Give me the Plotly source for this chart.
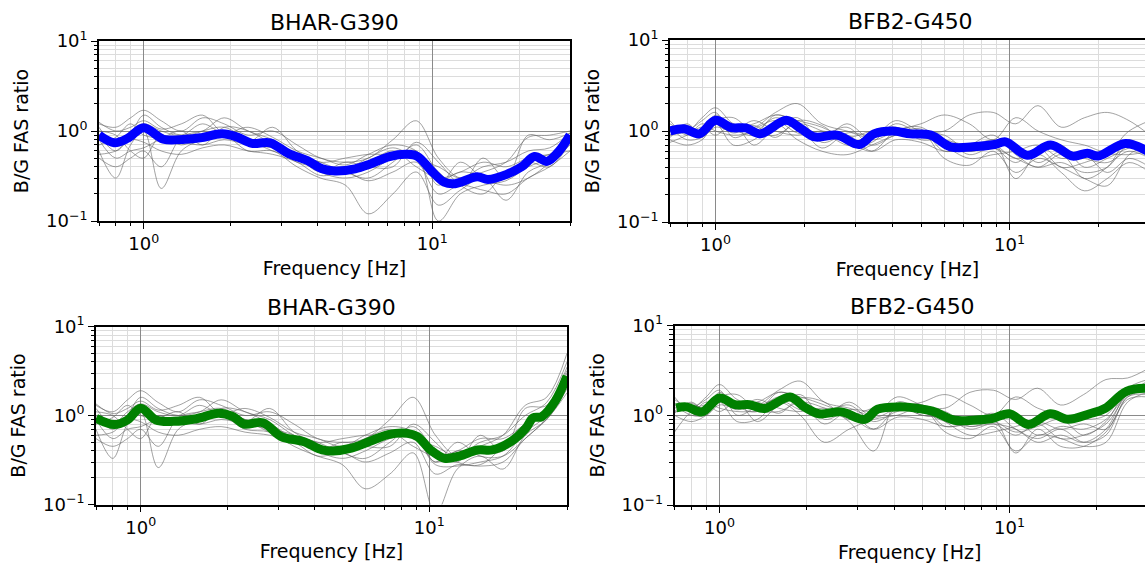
import numpy as np
import plotly.graph_objects as go

W, H = 1145, 566

# ---------------- data ----------------
grid_freq = [0.7, 0.8, 0.9, 1.0, 1.15, 1.35, 1.6, 1.9, 2.3, 2.8, 3.4, 4.1, 5.0, 6.0,
             7.3, 8.8, 10.5, 12.5, 15, 18, 21.5, 25.5, 30]

# top-left BHAR-G390 (blue)
tl_mean_freq = [0.70, 0.79, 0.88, 1.0, 1.17, 1.39, 1.57, 1.87, 2.1, 2.37, 2.74, 3.18, 3.69,
                4.15, 4.6, 5.4, 6.1, 7.1, 8.2, 8.9, 9.9, 11.0, 12.0, 14.3, 15.6, 18.1,
                20.4, 22.6, 25.0, 27.4, 30.0]
tl_mean = [0.90, 0.74, 0.83, 1.09, 0.81, 0.81, 0.84, 0.93, 0.86, 0.73, 0.74, 0.56, 0.47,
           0.38, 0.36, 0.38, 0.43, 0.52, 0.55, 0.52, 0.365, 0.27, 0.26, 0.31, 0.29, 0.33,
           0.40, 0.52, 0.46, 0.59, 0.90]
tl_gray = [
    [1.2, 1.1, 1.4, 1.7, 1.3, 1.0, 1.4, 1.2, 0.9, 1.0, 0.7, 0.5, 0.45, 0.5, 0.8, 1.3, 0.5, 0.3, 0.35, 0.45, 0.85, 0.9, 1.0],
    [0.9, 0.6, 0.9, 1.5, 1.1, 0.9, 1.0, 1.4, 1.0, 0.8, 0.55, 0.45, 0.35, 0.3, 0.45, 0.7, 0.35, 0.25, 0.5, 0.3, 0.9, 0.8, 0.95],
    [0.6, 0.3, 0.7, 1.0, 0.23, 0.6, 0.8, 0.9, 0.6, 0.6, 0.4, 0.3, 0.25, 0.12, 0.2, 0.35, 0.15, 0.22, 0.3, 0.17, 0.35, 0.45, 0.7],
    [0.8, 0.5, 0.6, 0.65, 0.8, 0.75, 0.7, 0.8, 0.7, 0.65, 0.55, 0.35, 0.3, 0.35, 0.5, 0.55, 0.1, 0.2, 0.25, 0.28, 0.4, 0.5, 0.8],
    [0.5, 0.4, 0.5, 0.6, 0.4, 0.85, 1.0, 1.1, 0.8, 0.7, 0.5, 0.4, 0.4, 0.45, 0.6, 0.4, 0.3, 0.35, 0.45, 0.4, 0.5, 0.55, 0.6],
    [1.1, 0.7, 1.0, 1.2, 1.0, 0.9, 1.2, 0.9, 0.75, 1.1, 0.6, 0.45, 0.5, 0.55, 0.55, 0.6, 0.25, 0.45, 0.3, 0.25, 0.3, 0.45, 0.9],
    [0.7, 0.85, 1.2, 0.9, 0.85, 1.0, 0.7, 1.1, 1.0, 0.7, 0.45, 0.4, 0.38, 0.5, 0.65, 0.5, 0.4, 0.3, 0.4, 0.45, 0.6, 0.65, 0.95],
    [1.0, 0.9, 0.6, 0.5, 0.9, 0.7, 0.9, 1.0, 0.8, 0.6, 0.5, 0.35, 0.45, 0.4, 0.4, 0.75, 0.45, 0.25, 0.2, 0.35, 0.45, 0.4, 0.75],
    [1.25, 1.0, 1.1, 1.3, 1.05, 1.2, 1.5, 0.95, 1.1, 0.85, 0.6, 0.5, 0.42, 0.55, 0.7, 0.6, 0.28, 0.35, 0.32, 0.3, 0.5, 0.55, 0.85],
    [0.55, 0.6, 0.8, 0.75, 0.6, 0.55, 0.65, 0.7, 0.6, 0.55, 0.45, 0.32, 0.35, 0.28, 0.35, 0.45, 0.2, 0.25, 0.22, 0.2, 0.3, 0.4, 0.6],
]

# bottom-left BHAR-G390 (green)
bl_mean_freq = [0.70, 0.81, 0.90, 1.0, 1.13, 1.3, 1.56, 1.86, 2.09, 2.28, 2.65, 3.07, 3.66,
                4.25, 4.64, 5.37, 6.2, 7.2, 8.4, 9.1, 10.1, 11.3, 12.7, 14.7, 16.5, 19.2,
                21.6, 22.9, 24.5, 27.3, 30.0]
bl_mean = [0.93, 0.79, 0.89, 1.21, 0.89, 0.86, 0.92, 1.06, 0.97, 0.80, 0.83, 0.58, 0.51,
           0.41, 0.40, 0.43, 0.51, 0.61, 0.63, 0.58, 0.41, 0.33, 0.35, 0.41, 0.41, 0.51,
           0.72, 0.94, 0.97, 1.45, 2.76]
bl_gray = [
    [1.3, 1.1, 1.5, 1.9, 1.4, 1.1, 1.5, 1.3, 1.0, 1.1, 0.8, 0.55, 0.5, 0.55, 0.9, 1.6, 0.6, 0.35, 0.45, 0.6, 1.3, 1.6, 5.0],
    [1.0, 0.7, 1.0, 1.6, 1.2, 1.0, 1.1, 1.5, 1.1, 0.9, 0.6, 0.5, 0.38, 0.33, 0.5, 0.75, 0.4, 0.3, 0.6, 0.4, 1.2, 1.3, 3.5],
    [0.7, 0.33, 0.8, 1.1, 0.26, 0.7, 0.9, 1.0, 0.7, 0.65, 0.45, 0.35, 0.28, 0.15, 0.22, 0.38, 0.08, 0.25, 0.35, 0.25, 0.6, 0.9, 2.0],
    [0.9, 0.55, 0.7, 0.75, 0.9, 0.85, 0.8, 0.9, 0.8, 0.7, 0.6, 0.4, 0.33, 0.4, 0.55, 0.6, 0.28, 0.27, 0.3, 0.35, 0.65, 1.0, 2.5],
    [0.55, 0.45, 0.55, 0.7, 0.45, 0.95, 1.1, 1.2, 0.9, 0.8, 0.55, 0.45, 0.45, 0.5, 0.65, 0.45, 0.35, 0.4, 0.55, 0.55, 0.8, 1.1, 3.0],
    [1.2, 0.8, 1.1, 1.35, 1.1, 1.0, 1.3, 1.0, 0.85, 1.2, 0.65, 0.5, 0.55, 0.6, 0.6, 0.65, 0.3, 0.5, 0.35, 0.35, 0.55, 0.95, 2.8],
    [0.8, 0.95, 1.3, 1.0, 0.95, 1.1, 0.8, 1.2, 1.1, 0.8, 0.5, 0.45, 0.42, 0.55, 0.7, 0.55, 0.45, 0.35, 0.5, 0.6, 1.0, 1.4, 4.0],
    [1.1, 1.0, 0.7, 0.55, 1.0, 0.8, 1.0, 1.1, 0.9, 0.65, 0.55, 0.4, 0.5, 0.45, 0.45, 0.8, 0.5, 0.3, 0.28, 0.45, 0.8, 1.0, 2.2],
    [1.35, 1.05, 1.2, 1.45, 1.15, 1.3, 1.6, 1.05, 1.2, 0.95, 0.65, 0.55, 0.45, 0.6, 0.75, 0.65, 0.3, 0.4, 0.38, 0.4, 0.8, 1.2, 3.2],
    [0.6, 0.65, 0.9, 0.85, 0.65, 0.6, 0.7, 0.75, 0.65, 0.6, 0.5, 0.35, 0.38, 0.3, 0.38, 0.5, 0.22, 0.28, 0.27, 0.3, 0.55, 0.9, 1.8],
]

# top-right BFB2-G450 (blue)
tr_mean_freq = [0.70, 0.78, 0.88, 1.0, 1.13, 1.27, 1.42, 1.74, 1.95, 2.18, 2.59, 3.08, 3.46,
                3.99, 4.6, 5.4, 6.3, 7.5, 8.9, 9.7, 11.5, 13.8, 16.4, 18.4, 20.0, 24.8, 30.0]
tr_mean = [1.0, 1.06, 0.93, 1.31, 1.09, 1.08, 0.93, 1.31, 1.06, 0.86, 0.90, 0.71, 0.93,
           1.0, 0.93, 0.90, 0.67, 0.67, 0.71, 0.76, 0.54, 0.70, 0.53, 0.57, 0.53, 0.73, 0.58]
tr_gray = [
    [1.2, 1.0, 1.4, 1.8, 1.2, 1.1, 1.6, 2.0, 1.2, 1.0, 0.85, 1.3, 1.0, 1.0, 1.5, 1.6, 1.2, 1.9, 1.1, 1.4, 1.6, 1.3, 0.9],
    [0.9, 1.2, 0.9, 1.3, 1.4, 1.0, 1.4, 1.1, 0.8, 1.2, 0.8, 1.0, 1.2, 1.5, 1.2, 0.8, 1.4, 1.0, 0.8, 0.7, 0.6, 1.0, 1.3],
    [0.8, 0.7, 0.8, 1.2, 0.7, 0.8, 1.2, 0.8, 0.6, 0.55, 0.7, 0.9, 1.0, 0.5, 0.42, 0.6, 0.35, 0.5, 0.4, 0.3, 0.25, 0.55, 0.7],
    [1.0, 1.1, 1.0, 1.5, 1.1, 1.2, 1.5, 1.3, 1.1, 0.8, 0.6, 1.0, 1.1, 0.7, 0.5, 0.55, 0.6, 0.7, 0.5, 0.55, 0.35, 0.5, 0.4],
    [1.3, 0.9, 1.2, 1.0, 0.9, 0.95, 0.9, 1.2, 1.0, 0.7, 0.75, 1.2, 0.9, 0.7, 0.6, 0.65, 0.5, 0.4, 0.45, 0.35, 0.4, 0.7, 0.6],
    [0.75, 0.9, 1.1, 0.9, 1.2, 0.7, 1.1, 1.4, 0.75, 0.9, 0.6, 0.8, 0.75, 0.6, 0.65, 0.75, 0.3, 0.55, 0.35, 0.22, 0.3, 0.45, 0.35],
    [1.1, 0.8, 0.85, 1.1, 1.0, 1.3, 1.0, 0.9, 1.0, 0.85, 1.0, 1.1, 0.85, 0.8, 0.7, 0.8, 0.7, 0.45, 0.6, 0.5, 0.45, 0.6, 0.5],
    [0.9, 1.0, 1.3, 1.6, 0.85, 1.05, 1.3, 0.95, 0.9, 1.1, 0.7, 0.9, 0.95, 0.9, 0.6, 0.7, 0.5, 0.6, 0.7, 0.4, 0.5, 0.65, 0.7],
    [0.85, 1.15, 0.95, 1.4, 1.05, 0.9, 1.5, 1.2, 0.65, 0.95, 0.9, 1.1, 0.8, 0.8, 0.55, 0.65, 0.45, 0.65, 0.4, 0.45, 0.55, 0.55, 0.6],
    [1.1, 0.95, 1.0, 1.2, 0.95, 1.15, 0.85, 1.3, 1.15, 0.75, 0.85, 0.95, 1.05, 0.6, 0.7, 0.9, 0.55, 0.4, 0.55, 0.3, 0.4, 0.8, 0.55],
]

# bottom-right BFB2-G450 (green)
br_mean_freq = [0.71, 0.77, 0.87, 1.0, 1.13, 1.27, 1.43, 1.75, 1.96, 2.2, 2.63, 3.17, 3.51,
                4.18, 4.83, 5.42, 6.47, 7.5, 8.7, 10.0, 11.6, 13.8, 15.9, 18.9, 21.3, 25.3, 30.0]
br_mean = [1.21, 1.24, 1.09, 1.56, 1.31, 1.31, 1.19, 1.60, 1.24, 1.04, 1.09, 0.90, 1.17,
           1.24, 1.19, 1.11, 0.88, 0.88, 0.92, 1.04, 0.79, 1.04, 0.90, 1.04, 1.19, 1.85, 2.0]
br_gray = [
    [1.5, 1.2, 1.6, 2.2, 1.5, 1.3, 1.9, 2.4, 1.4, 1.2, 1.0, 1.6, 1.3, 1.2, 1.8, 1.9, 1.5, 2.0, 1.3, 1.7, 2.5, 2.6, 3.3],
    [1.1, 1.4, 1.1, 1.6, 1.7, 1.2, 1.6, 1.3, 1.0, 1.4, 0.95, 1.2, 1.4, 1.7, 1.3, 1.0, 1.6, 1.2, 1.0, 0.9, 1.0, 2.0, 2.5],
    [1.0, 0.85, 1.0, 1.4, 0.85, 0.9, 1.4, 1.0, 0.5, 0.7, 0.9, 1.0, 1.2, 0.65, 0.55, 0.75, 0.4, 0.6, 0.55, 0.45, 0.5, 1.4, 1.8],
    [1.2, 1.3, 1.2, 1.8, 1.3, 1.4, 1.8, 1.6, 1.3, 1.0, 0.7, 1.2, 1.3, 0.85, 0.6, 0.65, 0.75, 0.85, 0.7, 0.8, 0.7, 1.6, 1.9],
    [1.6, 1.1, 1.4, 1.2, 1.1, 1.1, 1.1, 1.4, 1.2, 0.85, 0.4, 1.4, 1.1, 0.85, 0.75, 0.8, 0.7, 0.5, 0.6, 0.5, 0.7, 1.8, 2.2],
    [0.65, 1.1, 1.3, 1.1, 1.4, 0.85, 1.3, 1.7, 0.9, 1.1, 0.7, 0.95, 0.9, 0.75, 0.8, 0.9, 0.38, 0.7, 0.45, 0.45, 0.65, 1.5, 1.6],
    [1.3, 1.0, 1.0, 1.3, 1.2, 1.5, 1.2, 1.1, 1.2, 1.0, 1.2, 1.3, 1.0, 0.95, 0.85, 1.0, 0.9, 0.6, 0.75, 0.7, 0.9, 1.7, 2.0],
    [1.1, 1.2, 1.5, 1.9, 1.0, 1.25, 1.5, 1.15, 1.1, 1.3, 0.85, 1.1, 1.15, 1.1, 0.75, 0.85, 0.65, 0.75, 0.9, 0.6, 0.85, 1.9, 2.1],
    [1.05, 1.35, 1.15, 1.7, 1.25, 1.1, 1.8, 1.45, 0.8, 1.15, 1.1, 1.3, 1.0, 0.95, 0.7, 0.8, 0.6, 0.8, 0.55, 0.6, 0.8, 1.7, 2.4],
    [1.35, 1.15, 1.2, 1.45, 1.15, 1.4, 1.05, 1.55, 1.4, 0.9, 1.05, 1.15, 1.25, 0.75, 0.85, 1.05, 0.7, 0.55, 0.7, 0.5, 0.6, 1.6, 1.7],
]

titles = ["BHAR-G390", "BFB2-G450", "BHAR-G390", "BFB2-G450"]
x_label = "Frequency [Hz]"
y_label = "B/G FAS ratio"
x_tickvals = [1, 10]
x_ticktext = ["10<sup>0</sup>", "10<sup>1</sup>"]
y_tickvals = [0.1, 1, 10]
y_ticktext = ["10<sup>\u22121</sup>", "10<sup>0</sup>", "10<sup>1</sup>"]

# ---------------- layout helpers ----------------
# panel pixel boxes: (left, right, top, bottom)
boxes = [
    (99, 570, 41, 221),
    (670, 1145, 40, 222),
    (96, 567, 326.5, 504.5),
    (674.5, 1145, 325.5, 505),
]
x_hi = [30, 28.9, 30, 29.3]

panels = [
    (tl_mean_freq, tl_mean, tl_gray, "#0000ff"),
    (tr_mean_freq, tr_mean, tr_gray, "#0000ff"),
    (bl_mean_freq, bl_mean, bl_gray, "#008000"),
    (br_mean_freq, br_mean, br_gray, "#008000"),
]

FONT = "DejaVu Sans"
TICK_SIZE = 18
LABEL_SIZE = 19
TITLE_SIZE = 22
minor_vals = [m * 10.0 ** e for e in (-2, -1, 0, 1, 2) for m in range(2, 10)]

fig = go.Figure()
layout = dict(
    template="none",
    width=W, height=H, autosize=False,
    margin=dict(l=0, r=0, t=0, b=0, pad=0),
    paper_bgcolor="white", plot_bgcolor="white",
    showlegend=False,
    font=dict(family=FONT, size=TICK_SIZE, color="black"),
    annotations=[],
)

for i, ((mf, mv, grays, col), (l, r, t, b)) in enumerate(zip(panels, boxes)):
    xa = "x" if i == 0 else f"x{i+1}"
    ya = "y" if i == 0 else f"y{i+1}"
    for g in grays:
        fig.add_trace(go.Scatter(x=grid_freq, y=g, mode="lines", xaxis=xa, yaxis=ya,
                                 line=dict(color="rgba(100,100,100,0.6)", width=1, shape="spline", smoothing=1.0),
                                 hoverinfo="skip"))
    fig.add_trace(go.Scatter(x=mf, y=mv, mode="lines", xaxis=xa, yaxis=ya,
                             line=dict(color=col, width=9, shape="spline", smoothing=1.0)))

    right_panel = i in (1, 3)
    xkey = "xaxis" if i == 0 else f"xaxis{i+1}"
    ykey = "yaxis" if i == 0 else f"yaxis{i+1}"
    layout[xkey] = dict(
        type="log", domain=[l / W, r / W], anchor=ya, automargin=False,
        range=[np.log10(0.7), np.log10(x_hi[i])],
        tickvals=x_tickvals, ticktext=x_ticktext,
        ticks="outside", ticklen=6, tickwidth=1.3, tickcolor="black",
        showline=True, linecolor="black", linewidth=1.6, mirror=True,
        showgrid=True, gridcolor="#8a8a8a", gridwidth=1.3,
        minor=dict(tickvals=minor_vals, ticks="outside", ticklen=3.5, tickwidth=1,
                   tickcolor="black", showgrid=True, gridcolor="#dcdcdc", gridwidth=1),
        tickfont=dict(size=TICK_SIZE), zeroline=False,
        title=dict(text=x_label, font=dict(size=LABEL_SIZE), standoff=8),
    )
    layout[ykey] = dict(
        type="log", domain=[1 - b / H, 1 - t / H], anchor=xa, automargin=False,
        range=[-1, 1],
        tickvals=y_tickvals, ticktext=y_ticktext,
        ticks="outside", ticklen=6, tickwidth=1.3, tickcolor="black",
        showline=True, linecolor="black", linewidth=1.6, mirror=(not right_panel),
        showgrid=True, gridcolor="#8a8a8a", gridwidth=1.3,
        minor=dict(tickvals=minor_vals, ticks="outside", ticklen=3.5, tickwidth=1,
                   tickcolor="black", showgrid=True, gridcolor="#dcdcdc", gridwidth=1),
        tickfont=dict(size=TICK_SIZE), zeroline=False,
        title=dict(text=y_label, font=dict(size=LABEL_SIZE), standoff=12),
    )
    cx = ((l + (r if not right_panel else 1150)) / 2) / W
    layout["annotations"].append(dict(
        text=titles[i], x=cx, y=1 - (t - 19) / H, xref="paper", yref="paper",
        xanchor="center", yanchor="middle", showarrow=False,
        font=dict(family=FONT, size=TITLE_SIZE, color="black"),
    ))

fig.update_layout(**layout)
fig.write_html("out.html", config={"displayModeBar": False},
               post_script="document.body.style.margin='0';")
